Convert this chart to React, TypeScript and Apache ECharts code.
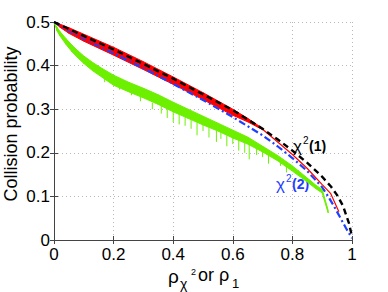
import React, { useEffect, useRef } from 'react';
import * as echarts from 'echarts';

// x positions / values for chi^2(1) (black dashed)
const blackX = [0, 0.05, 0.1, 0.2, 0.3, 0.4, 0.5, 0.6, 0.7, 0.75, 0.8, 0.85, 0.9, 0.93, 0.95, 0.97, 0.99, 1.0];
const blackY = [0.5, 0.484, 0.468, 0.437, 0.404, 0.37, 0.334, 0.298, 0.255, 0.231, 0.205, 0.177, 0.145, 0.122, 0.103, 0.078, 0.038, 0.008];

// chi^2(2) (blue dash-dot)
const blueX = [0, 0.05, 0.1, 0.2, 0.3, 0.4, 0.5, 0.6, 0.7, 0.75, 0.8, 0.85, 0.9, 0.92, 0.94, 0.96, 0.98, 1.0];
const blueY = [0.5, 0.48, 0.462, 0.428, 0.394, 0.358, 0.321, 0.282, 0.24, 0.215, 0.188, 0.158, 0.121, 0.1, 0.077, 0.052, 0.027, 0.004];

// red empirical curve (thin line)
const redX = [0, 0.1, 0.2, 0.3, 0.4, 0.5, 0.6, 0.7, 0.8, 0.85, 0.9, 0.928, 0.956];
const redY = [0.5, 0.464, 0.433, 0.4, 0.366, 0.33, 0.293, 0.254, 0.196, 0.164, 0.127, 0.107, 0.065];
// red thick noisy band
const redBandX = [0, 0.02, 0.05, 0.1, 0.2, 0.3, 0.4, 0.5, 0.6, 0.65, 0.7];
const redUpper = [0.5, 0.495, 0.487, 0.472, 0.442, 0.409, 0.374, 0.338, 0.3, 0.279, 0.256];
const redLower = [0.5, 0.488, 0.474, 0.456, 0.424, 0.391, 0.357, 0.322, 0.286, 0.271, 0.253];

// green noisy curve: band envelope
const greenX = [0, 0.01, 0.02, 0.04, 0.06, 0.08, 0.1, 0.13, 0.16, 0.2, 0.25, 0.3, 0.35, 0.4, 0.45, 0.5, 0.55, 0.6, 0.65, 0.7, 0.75, 0.8, 0.85, 0.88, 0.9, 0.92];
const greenUpper = [0.5, 0.488, 0.478, 0.462, 0.447, 0.434, 0.422, 0.407, 0.394, 0.378, 0.362, 0.348, 0.333, 0.316, 0.3, 0.284, 0.268, 0.252, 0.236, 0.215, 0.194, 0.17, 0.142, 0.125, 0.116, 0.068];
const greenLower = [0.5, 0.48, 0.468, 0.449, 0.432, 0.418, 0.405, 0.388, 0.374, 0.355, 0.34, 0.326, 0.311, 0.294, 0.279, 0.264, 0.25, 0.234, 0.22, 0.202, 0.182, 0.158, 0.133, 0.117, 0.108, 0.062];
// green downward spikes: [x, top, bottom]
const greenSpikes = [
  [0.17, 0.375, 0.362], [0.22, 0.36, 0.345], [0.26, 0.345, 0.332], [0.29, 0.335, 0.318],
  [0.33, 0.315, 0.3], [0.36, 0.31, 0.29], [0.38, 0.3, 0.28], [0.4, 0.294, 0.27],
  [0.42, 0.29, 0.265], [0.44, 0.282, 0.262], [0.46, 0.276, 0.255], [0.48, 0.27, 0.24],
  [0.5, 0.264, 0.25], [0.52, 0.258, 0.235], [0.545, 0.25, 0.225], [0.56, 0.248, 0.232],
  [0.58, 0.24, 0.215], [0.6, 0.234, 0.22], [0.62, 0.23, 0.205], [0.64, 0.225, 0.2],
  [0.655, 0.222, 0.185], [0.68, 0.212, 0.195], [0.7, 0.205, 0.19], [0.72, 0.198, 0.175],
  [0.76, 0.18, 0.17], [0.78, 0.172, 0.155], [0.82, 0.16, 0.148], [0.86, 0.137, 0.128],
];

const xTicks = { min: 0, max: 1, interval: 0.2 };
const yTicks = { min: 0, max: 0.5, interval: 0.1 };

const FONT = 'Liberation Sans, Arial, Helvetica, sans-serif';
const GREEN = '#6cf000';
const BLUE = '#2040ff';
const AXIS = '#444';

function bandSeries(xs: number[], lo: number[], hi: number[], color: string) {
  return {
    type: 'custom',
    data: xs.map((x, i) => [x, lo[i], hi[i]]),
    encode: { x: 0, y: [1, 2] },
    renderItem: (params: any, api: any) => {
      const i = params.dataIndexInside;
      if (i >= params.dataInsideLength - 1) return null;
      const a = api.coord([api.value(0, i), api.value(2, i)]);
      const b = api.coord([api.value(0, i + 1), api.value(2, i + 1)]);
      const c = api.coord([api.value(0, i + 1), api.value(1, i + 1)]);
      const d = api.coord([api.value(0, i), api.value(1, i)]);
      return {
        type: 'polygon',
        shape: { points: [a, b, c, d] },
        style: { fill: color, stroke: color, lineWidth: 1 },
      };
    },
  };
}

export default function App() {
  const ref = useRef<HTMLDivElement>(null);
  useEffect(() => {
    document.body.style.margin = '0';
    const chart = echarts.init(ref.current!, null, { renderer: 'svg' });
    const pairs = (xs: number[], ys: number[]) => xs.map((x, i) => [x, ys[i]]);
    const baseAxis = {
      type: 'value' as const,
      axisLine: { show: true, lineStyle: { color: AXIS, width: 1 } },
      axisTick: { show: true, inside: true, length: 4, lineStyle: { color: AXIS } },
    };
    const txt = (x: number, y: number, text: string, size: number, color = '#000', bold = false) => ({
      type: 'text', x, y,
      style: { text, fontSize: size, fontWeight: bold ? 'bold' : 'normal', fontFamily: FONT, fill: color, verticalAlign: 'middle', textVerticalAlign: 'middle' },
    });
    const option: any = {
      animation: false,
      grid: { left: 54, right: 36, top: 22, bottom: 52 },
      xAxis: [
        {
          ...baseAxis, ...xTicks, position: 'bottom',
          axisLabel: { fontSize: 17, color: '#000', fontFamily: FONT, margin: 6 },
          splitLine: { show: true, lineStyle: { color: '#b8b8b8', type: [1, 3] } },
        },
        {
          ...baseAxis, ...xTicks, position: 'top',
          axisLabel: { show: false }, splitLine: { show: false },
        },
      ],
      yAxis: [
        {
          ...baseAxis, ...yTicks, position: 'left',
          axisLabel: { fontSize: 17, color: '#000', fontFamily: FONT, margin: 4 },
          splitLine: { show: true, lineStyle: { color: '#b8b8b8', type: [1, 3] } },
        },
        {
          ...baseAxis, ...yTicks, position: 'right',
          axisLabel: { show: false }, splitLine: { show: false },
        },
      ],
      series: [
        bandSeries(greenX, greenLower, greenUpper, GREEN),
        {
          type: 'custom', data: greenSpikes, encode: { x: 0, y: [1, 2] },
          renderItem: (params: any, api: any) => {
            const p1 = api.coord([api.value(0), api.value(1)]);
            const p2 = api.coord([api.value(0), api.value(2)]);
            return {
              type: 'line',
              shape: { x1: p1[0], y1: p1[1], x2: p2[0], y2: p2[1] },
              style: { stroke: GREEN, lineWidth: 1 },
            };
          },
        },
        {
          type: 'line', symbol: 'none', data: pairs(blueX, blueY),
          lineStyle: { color: BLUE, width: 2.2, type: [7, 3, 2, 3] },
        },
        {
          type: 'line', symbol: 'none', data: pairs(redX, redY),
          lineStyle: { color: '#ff0000', width: 1.2 },
        },
        bandSeries(redBandX, redLower, redUpper, '#ff0000'),
        {
          type: 'line', symbol: 'none', data: pairs(blackX, blackY),
          lineStyle: { color: '#000', width: 2.4, type: [6, 4] },
        },
      ],
      graphic: [
        {
          type: 'text', x: 11, y: 124, rotation: Math.PI / 2,
          style: { text: 'Collision probability', fontSize: 18, fontFamily: FONT, fill: '#000', align: 'center', verticalAlign: 'middle', textAlign: 'center', textVerticalAlign: 'middle' },
        },
        // x-axis name: ρ_{χ²} or ρ_1
        txt(168, 276, 'ρ', 19),
        txt(180, 284, 'χ', 14),
        txt(191, 272, '2', 9),
        txt(198, 275, 'or ρ', 18),
        txt(232, 283, '1', 13),
        // χ²(1) label
        txt(293, 146, 'χ', 17),
        txt(303, 140, '2', 10),
        txt(309, 146, '(1)', 14, '#000', true),
        // χ²(2) label
        txt(276, 184, 'χ', 17, BLUE),
        txt(286, 178, '2', 10, BLUE),
        txt(292, 184, '(2)', 14, BLUE, true),
      ],
    };
    chart.setOption(option);
    return () => chart.dispose();
  }, []);
  return <div ref={ref} style={{ width: 388, height: 292 }} />;
}
